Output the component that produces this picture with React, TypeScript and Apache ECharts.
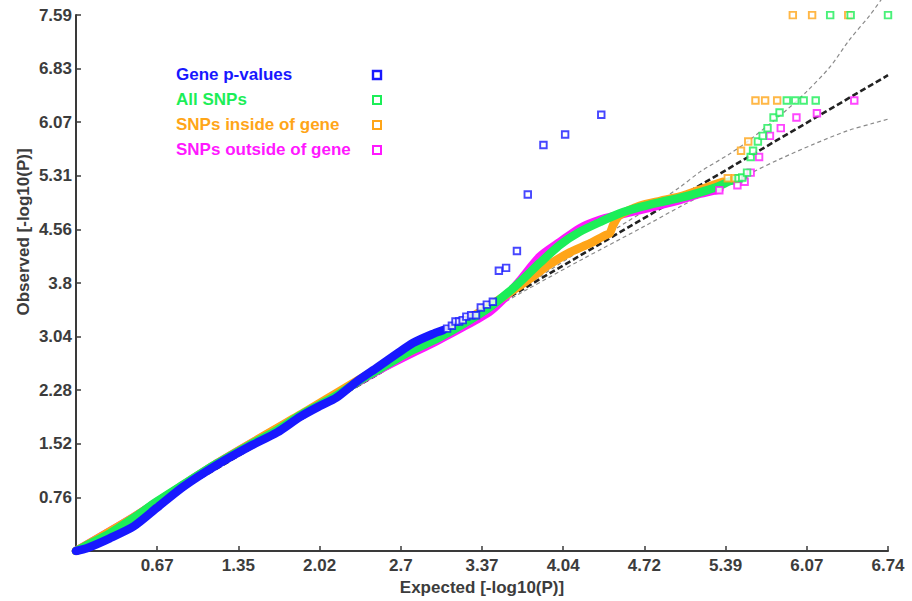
import React, { useEffect, useRef } from "react";
import * as echarts from "echarts";

// ---- axes ----
const X_MAX = 6.74;
const X_INTERVAL = 0.674;
const Y_MAX = 7.592;
const Y_INTERVAL = 0.7592;
const xTickLabels = ["", "0.67", "1.35", "2.02", "2.7", "3.37", "4.04", "4.72", "5.39", "6.07", "6.74"];
const yTickLabels = ["", "0.76", "1.52", "2.28", "3.04", "3.8", "4.56", "5.31", "6.07", "6.83", "7.59"];

// ---- series names / colours ----
const seriesNames = ["Gene p-values", "All SNPs", "SNPs inside of gene", "SNPs outside of gene"];
const seriesColors = ["#1818ff", "#1cee58", "#ffa518", "#ff18ff"];

// ---- reference lines ----
const diagonal: number[][] = [[0, 0], [6.74, 6.74]];
const upperCI: number[][] = [
  [0, 0], [2.7, 2.71], [3.37, 3.4], [3.74, 3.77], [4.2, 4.27], [4.74, 4.84], [5.01, 5.15],
  [5.18, 5.37], [5.43, 5.63], [5.59, 5.82], [5.9, 6.25], [6.06, 6.5], [6.26, 6.86],
  [6.42, 7.24], [6.59, 7.59], [6.7, 7.85],
];
const lowerCI: number[][] = [
  [0, 0], [2.7, 2.69], [3.37, 3.34], [3.74, 3.7], [4.2, 4.13], [4.74, 4.62], [5.04, 4.9],
  [5.3, 5.12], [5.51, 5.28], [5.62, 5.37], [5.84, 5.55], [6.12, 5.76], [6.4, 5.95],
  [6.62, 6.06], [6.92, 6.2],
];

// ---- dense bands (expected, observed) ----
const geneBand: number[][] = [
  [0, 0], [0.09, 0.04], [0.28, 0.18], [0.48, 0.35], [0.67, 0.61], [0.89, 0.91], [1.17, 1.22],
  [1.44, 1.48], [1.67, 1.68], [1.86, 1.9], [2.02, 2.05], [2.16, 2.17], [2.33, 2.4], [2.5, 2.6],
  [2.66, 2.79], [2.8, 2.95], [2.97, 3.08], [3.05, 3.13],
];
const allBand: number[][] = [
  [0, 0], [0.09, 0.08], [0.28, 0.25], [0.48, 0.47], [0.67, 0.7], [0.89, 0.94], [1.17, 1.24],
  [1.44, 1.5], [1.67, 1.71], [1.86, 1.92], [2.02, 2.07], [2.16, 2.2], [2.33, 2.39], [2.5, 2.56],
  [2.66, 2.72], [2.8, 2.85], [3.0, 3.01], [3.2, 3.2], [3.44, 3.46], [3.6, 3.68], [3.68, 3.8],
  [3.85, 4.08], [4.02, 4.34], [4.18, 4.52], [4.35, 4.66], [4.51, 4.78], [4.68, 4.87],
  [4.85, 4.94], [5.01, 5.0], [5.18, 5.08], [5.34, 5.17], [5.43, 5.24], [5.54, 5.28],
];
const insideBand: number[][] = [
  [0, 0], [0.48, 0.48], [1.17, 1.24], [1.86, 1.93], [2.5, 2.58], [3.0, 3.03], [3.2, 3.23],
  [3.44, 3.48], [3.6, 3.66], [3.77, 3.86], [3.93, 4.06], [4.1, 4.23], [4.27, 4.36], [4.39, 4.47],
  [4.43, 4.5], [4.46, 4.62], [4.51, 4.75], [4.68, 4.89], [4.85, 4.96], [5.01, 5.02], [5.23, 5.15],
  [5.37, 5.23],
];
const outsideBand: number[][] = [
  [0, 0], [0.48, 0.48], [1.17, 1.24], [1.86, 1.92], [2.5, 2.55], [3.0, 2.98], [3.2, 3.16],
  [3.44, 3.4], [3.6, 3.66], [3.68, 3.82], [3.85, 4.17], [4.02, 4.38], [4.18, 4.57], [4.35, 4.69],
  [4.51, 4.76], [4.68, 4.83], [4.85, 4.9], [5.01, 4.97], [5.18, 5.06], [5.34, 5.12],
];

// ---- sparse tails (expected, observed) ----
const geneTail: number[][] = [
  [3.08, 3.15], [3.12, 3.19], [3.15, 3.25], [3.18, 3.25], [3.21, 3.27], [3.24, 3.32], [3.28, 3.34],
  [3.32, 3.34], [3.36, 3.45], [3.41, 3.49], [3.46, 3.53], [3.51, 3.97], [3.57, 4.01], [3.66, 4.25],
  [3.75, 5.05], [3.88, 5.75], [4.06, 5.9], [4.36, 6.18],
];
const allTail: number[][] = [
  [5.5, 5.28], [5.53, 5.29], [5.57, 5.36], [5.6, 5.58], [5.62, 5.67], [5.66, 5.8], [5.7, 5.88],
  [5.74, 5.99], [5.79, 6.14], [5.84, 6.21], [5.9, 6.38], [5.97, 6.38], [6.04, 6.38], [6.14, 6.38],
  [6.26, 7.59], [6.43, 7.59], [6.74, 7.59],
];
const insideTail: number[][] = [
  [5.41, 5.28], [5.47, 5.28], [5.52, 5.67], [5.58, 5.8], [5.64, 6.38], [5.72, 6.38], [5.82, 6.38],
  [5.95, 7.59], [6.11, 7.59], [6.41, 7.59],
];
const outsideTail: number[][] = [
  [5.34, 5.11], [5.49, 5.18], [5.55, 5.23], [5.6, 5.36], [5.67, 5.58], [5.76, 5.88], [5.85, 5.99],
  [5.98, 6.14], [6.15, 6.2], [6.46, 6.38],
];

const FONT = "'Liberation Sans', Arial, sans-serif";
const AXIS_COLOR = "#3a3a3a";
const LABEL_COLOR = "#3c3c3c";

export default function App() {
  const ref = useRef<HTMLDivElement>(null);

  useEffect(() => {
    if (!ref.current) return;
    const chart = echarts.init(ref.current, undefined, { renderer: "svg" });

    const bands = [outsideBand, insideBand, allBand, geneBand];
    const bandIdx = [3, 2, 1, 0];
    const tails = [outsideTail, insideTail, allTail, geneTail];

    const bandSeries = bands.map((d, k) => ({
      type: "line",
      name: seriesNames[bandIdx[k]] + " band",
      data: d,
      symbol: "none",
      smooth: 0.25,
      lineStyle: { color: seriesColors[bandIdx[k]], width: 8.5, join: "round", cap: "round" },
      z: 3,
    }));
    const tailSeries = tails.map((d, k) => ({
      type: "scatter",
      name: seriesNames[bandIdx[k]],
      data: d,
      symbol: "rect",
      symbolSize: 6.5,
      itemStyle: { color: "#ffffff", borderColor: seriesColors[bandIdx[k]], borderWidth: 1.9 },
      z: 4,
    }));

    const legendGraphics: any[] = [];
    seriesNames.forEach((n, i) => {
      legendGraphics.push({
        type: "text",
        left: 176,
        top: 66 + i * 25,
        style: { text: n, fill: seriesColors[i], font: `bold 17px ${FONT}` },
      });
      legendGraphics.push({
        type: "rect",
        shape: { x: 373, y: 71 + i * 25, width: 8, height: 8 },
        style: { fill: "#ffffff", stroke: seriesColors[i], lineWidth: i === 0 ? 2.4 : 2 },
      });
    });

    chart.setOption({
      animation: false,
      backgroundColor: "#ffffff",
      grid: { left: 76, right: 24, top: 15, bottom: 50, containLabel: false },
      xAxis: {
        type: "value",
        min: 0,
        max: X_MAX,
        interval: X_INTERVAL,
        splitLine: { show: false },
        axisLine: { lineStyle: { color: AXIS_COLOR, width: 2 } },
        axisTick: { inside: true, length: 5, lineStyle: { color: AXIS_COLOR, width: 1.5 } },
        axisLabel: {
          formatter: (v: number) => xTickLabels[Math.round(v / X_INTERVAL)] ?? "",
          color: LABEL_COLOR,
          fontSize: 17,
          fontWeight: "bold",
          fontFamily: FONT,
          margin: 6,
          showMinLabel: false,
        },
        name: "Expected [-log10(P)]",
        nameLocation: "middle",
        nameGap: 20,
        nameTextStyle: { color: LABEL_COLOR, fontSize: 17, fontWeight: "bold", fontFamily: FONT },
      },
      yAxis: {
        type: "value",
        min: 0,
        max: Y_MAX,
        interval: Y_INTERVAL,
        splitLine: { show: false },
        axisLine: { show: true, lineStyle: { color: AXIS_COLOR, width: 2 } },
        axisTick: { show: true, inside: true, length: 5, lineStyle: { color: AXIS_COLOR, width: 1.5 } },
        axisLabel: {
          formatter: (v: number) => yTickLabels[Math.round(v / Y_INTERVAL)] ?? "",
          color: LABEL_COLOR,
          fontSize: 17,
          fontWeight: "bold",
          fontFamily: FONT,
          margin: 4,
          showMinLabel: false,
        },
      },
      graphic: [
        {
          type: "text",
          x: 23,
          y: 232,
          rotation: Math.PI / 2,
          style: {
            text: "Observed [-log10(P)]",
            fill: LABEL_COLOR,
            font: `bold 17px ${FONT}`,
            textAlign: "center",
            textVerticalAlign: "middle",
          },
        },
        ...legendGraphics,
      ],
      series: [
        {
          type: "line",
          name: "lower CI",
          data: lowerCI,
          symbol: "none",
          clip: false,
          smooth: 0.3,
          lineStyle: { color: "#8a8a8a", width: 1.2, type: [4, 3] },
          z: 1,
        },
        {
          type: "line",
          name: "upper CI",
          data: upperCI,
          symbol: "none",
          clip: false,
          smooth: 0.3,
          lineStyle: { color: "#8a8a8a", width: 1.2, type: [4, 3] },
          z: 1,
        },
        {
          type: "line",
          name: "expected",
          data: diagonal,
          symbol: "none",
          lineStyle: { color: "#222222", width: 2.6, type: [6, 3] },
          z: 2,
        },
        ...bandSeries,
        ...tailSeries,
      ],
    });

    return () => chart.dispose();
  }, []);

  return (
    <div
      ref={ref}
      style={{ position: "fixed", left: 0, top: 0, width: 912, height: 601, background: "#fff" }}
    />
  );
}
